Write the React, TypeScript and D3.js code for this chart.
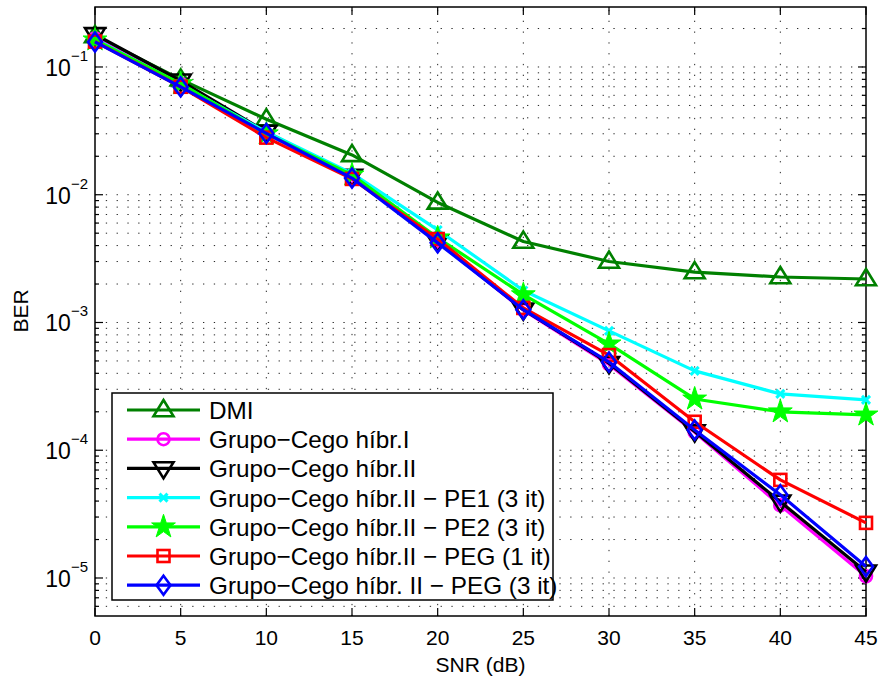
import React from "react";
import * as d3 from "d3";

const snr = [0, 5, 10, 15, 20, 25, 30, 35, 40, 45];
const dmi = [0.175, 0.08, 0.039, 0.0205, 0.0087, 0.0043, 0.003, 0.00248, 0.00227, 0.00219];
const hibI = [0.168, 0.074, 0.03, 0.0138, 0.0043, 0.00125, 0.00047, 0.000138, 0.000037, 0.0000103];
const hibII = [0.18, 0.078, 0.031, 0.014, 0.0043, 0.00126, 0.00048, 0.00014, 0.0000395, 0.0000112];
const pe1 = [0.165, 0.073, 0.031, 0.0147, 0.0053, 0.00178, 0.00086, 0.000418, 0.000276, 0.000248];
const pe2 = [0.163, 0.074, 0.03, 0.0143, 0.0046, 0.00165, 0.00068, 0.000252, 0.0002, 0.000189];
const peg1 = [0.158, 0.07, 0.028, 0.0133, 0.0045, 0.0013, 0.000556, 0.000167, 0.0000586, 0.000027];
const peg3 = [0.157, 0.0698, 0.0302, 0.0135, 0.0042, 0.00126, 0.00049, 0.000144, 0.0000448, 0.0000123];

const xTicks = [0, 5, 10, 15, 20, 25, 30, 35, 40, 45];
const yDecades = [-5, -4, -3, -2, -1];

type Marker = "tri" | "circle" | "tridown" | "x" | "star" | "square" | "diamond";

const seriesList: { name: string; values: number[]; color: string; marker: Marker }[] = [
  { name: "DMI", values: dmi, color: "#008000", marker: "tri" },
  { name: "Grupo\u2212Cego híbr.I", values: hibI, color: "#ff00ff", marker: "circle" },
  { name: "Grupo\u2212Cego híbr.II", values: hibII, color: "#000000", marker: "tridown" },
  { name: "Grupo\u2212Cego híbr.II \u2212 PE1 (3 it)", values: pe1, color: "#00ffff", marker: "x" },
  { name: "Grupo\u2212Cego híbr.II \u2212 PE2 (3 it)", values: pe2, color: "#00ff00", marker: "star" },
  { name: "Grupo\u2212Cego híbr.II \u2212 PEG (1 it)", values: peg1, color: "#ff0000", marker: "square" },
  { name: "Grupo\u2212Cego híbr. II \u2212 PEG (3 it)", values: peg3, color: "#0000ff", marker: "diamond" },
];

const L = 95, R = 866, T = 7, B = 616;
const FONT = "'Liberation Sans', Arial, Helvetica, sans-serif";

function MarkerShape({ type, x, y, color }: { type: Marker; x: number; y: number; color: string }) {
  const sw = 2.6;
  switch (type) {
    case "tri": {
      const s = 10;
      const pts = `${x},${y - s} ${x + s},${y + s * 0.62} ${x - s},${y + s * 0.62}`;
      return <polygon points={pts} fill="none" stroke={color} strokeWidth={sw} />;
    }
    case "tridown": {
      const s = 10;
      const pts = `${x},${y + s} ${x + s},${y - s * 0.62} ${x - s},${y - s * 0.62}`;
      return <polygon points={pts} fill="none" stroke={color} strokeWidth={sw} />;
    }
    case "circle":
      return <circle cx={x} cy={y} r={6} fill="none" stroke={color} strokeWidth={sw} />;
    case "x": {
      const s = 4;
      return (
        <g stroke={color} strokeWidth={3}>
          <line x1={x - s} y1={y - s} x2={x + s} y2={y + s} />
          <line x1={x - s} y1={y + s} x2={x + s} y2={y - s} />
        </g>
      );
    }
    case "star": {
      const ro = 12.5, ri = 4.8;
      const pts: string[] = [];
      for (let i = 0; i < 10; i++) {
        const r = i % 2 === 0 ? ro : ri;
        const a = -Math.PI / 2 + (i * Math.PI) / 5;
        pts.push(`${x + r * Math.cos(a)},${y + r * Math.sin(a)}`);
      }
      return <polygon points={pts.join(" ")} fill={color} stroke={color} strokeWidth={1} />;
    }
    case "square": {
      const s = 6;
      return <rect x={x - s} y={y - s} width={2 * s} height={2 * s} fill="none" stroke={color} strokeWidth={sw} />;
    }
    case "diamond": {
      const w = 7, h = 9.5;
      const pts = `${x},${y - h} ${x + w},${y} ${x},${y + h} ${x - w},${y}`;
      return <polygon points={pts} fill="none" stroke={color} strokeWidth={sw} />;
    }
  }
  return null;
}

export default function App() {
  const x = d3.scaleLinear().domain([0, 45]).range([L, R]);
  const y = d3.scaleLog().domain([Math.pow(10, -5.2975), Math.pow(10, -0.5305)]).range([B, T]);
  const line = d3
    .line<number>()
    .x((_, i) => x(snr[i]))
    .y((v) => y(v));

  const minor: number[] = [];
  for (let e = -6; e <= 0; e++) {
    for (let k = 2; k <= 9; k++) {
      const v = k * Math.pow(10, e);
      const py = y(v);
      if (py > T + 0.5 && py < B - 0.5) minor.push(v);
    }
  }

  const legTop = 393, legLeft = 112, legRight = 553, legBottom = 600;
  const legStep = 29.2;
  const legY0 = 410;

  return (
    <svg width={881} height={682} style={{ position: "absolute", left: 0, top: 0, background: "#fff" }} fontFamily={FONT}>
      <rect x={0} y={0} width={881} height={682} fill="#fff" />
      {/* grid */}
      <g stroke="#000" strokeWidth={1} strokeDasharray="1.3,9.5" opacity={0.85}>
        {xTicks.slice(1, -1).map((t) => (
          <line key={"gx" + t} x1={x(t)} x2={x(t)} y1={B} y2={T} />
        ))}
        {yDecades.map((e) => (
          <line key={"gy" + e} x1={L} x2={R} y1={y(Math.pow(10, e))} y2={y(Math.pow(10, e))} />
        ))}
        {minor.map((v, i) => (
          <line key={"gm" + i} x1={L} x2={R} y1={y(v)} y2={y(v)} />
        ))}
      </g>
      {/* axes box */}
      <rect x={L} y={T} width={R - L} height={B - T} fill="none" stroke="#000" strokeWidth={1.5} />
      {/* ticks */}
      <g stroke="#000" strokeWidth={1.2}>
        {xTicks.map((t) => (
          <g key={"xt" + t}>
            <line x1={x(t)} x2={x(t)} y1={B} y2={B - 8} />
            <line x1={x(t)} x2={x(t)} y1={T} y2={T + 8} />
          </g>
        ))}
        {yDecades.map((e) => (
          <g key={"yt" + e}>
            <line x1={L} x2={L + 8} y1={y(Math.pow(10, e))} y2={y(Math.pow(10, e))} />
            <line x1={R} x2={R - 8} y1={y(Math.pow(10, e))} y2={y(Math.pow(10, e))} />
          </g>
        ))}
        {minor.map((v, i) => (
          <g key={"ym" + i}>
            <line x1={L} x2={L + 4} y1={y(v)} y2={y(v)} />
            <line x1={R} x2={R - 4} y1={y(v)} y2={y(v)} />
          </g>
        ))}
      </g>
      {/* tick labels */}
      <g fill="#000">
        {xTicks.map((t) => (
          <text key={"xl" + t} x={x(t)} y={645} textAnchor="middle" fontSize={21}>
            {t}
          </text>
        ))}
        {yDecades.map((e) => (
          <text key={"yl" + e} x={L - 7} y={y(Math.pow(10, e)) + 9} textAnchor="end" fontSize={23}>
            <tspan>10</tspan>
            <tspan fontSize={15} dy={-15}>{"\u2212" + Math.abs(e)}</tspan>
          </text>
        ))}
      </g>
      <text x={(L + R) / 2} y={672} textAnchor="middle" fontSize={21}>SNR (dB)</text>
      <text transform={`translate(28,311) rotate(-90)`} textAnchor="middle" fontSize={21}>BER</text>
      {/* series */}
      {seriesList.map((s) => (
        <g key={s.name}>
          <path d={line(s.values) || ""} fill="none" stroke={s.color} strokeWidth={3.2} strokeLinejoin="round" />
          {s.values.map((v, i) => (
            <MarkerShape key={i} type={s.marker} x={x(snr[i])} y={y(v)} color={s.color} />
          ))}
        </g>
      ))}
      {/* legend */}
      <rect x={legLeft} y={legTop} width={legRight - legLeft} height={legBottom - legTop} fill="#fff" stroke="#000" strokeWidth={1.5} />
      {seriesList.map((s, i) => {
        const ly = legY0 + i * legStep;
        return (
          <g key={"lg" + i}>
            <line x1={127} x2={200} y1={ly} y2={ly} stroke={s.color} strokeWidth={3.2} />
            <MarkerShape type={s.marker} x={163.5} y={ly} color={s.color} />
            <text x={209} y={ly + 9} fontSize={24.3} fill="#000">{s.name}</text>
          </g>
        );
      })}
    </svg>
  );
}
